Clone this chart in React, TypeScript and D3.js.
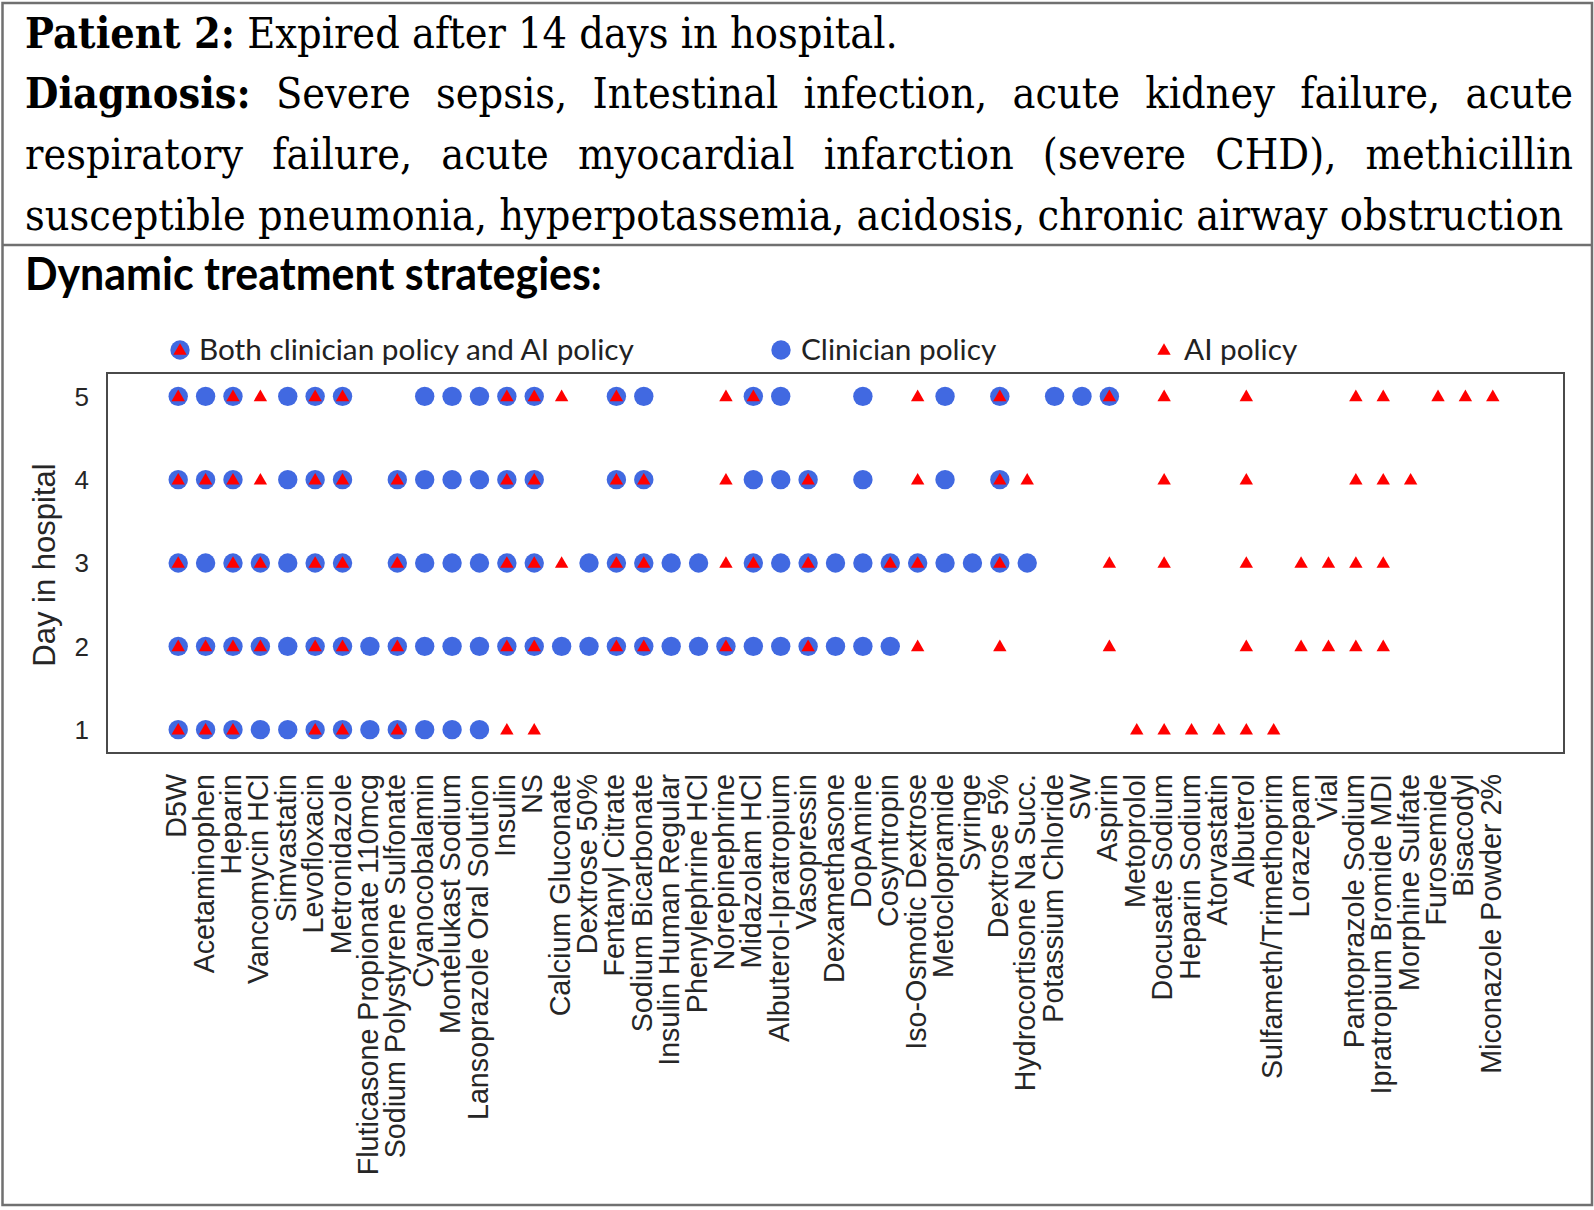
import React, { useLayoutEffect, useRef } from 'react';
import * as d3 from 'd3';

// ---------- data ----------
const drugs = [
  'D5W', 'Acetaminophen', 'Heparin', 'Vancomycin HCl', 'Simvastatin', 'Levofloxacin',
  'Metronidazole', 'Fluticasone Propionate 110mcg', 'Sodium Polystyrene Sulfonate',
  'Cyanocobalamin', 'Montelukast Sodium', 'Lansoprazole Oral Solution', 'Insulin', 'NS',
  'Calcium Gluconate', 'Dextrose 50%', 'Fentanyl Citrate', 'Sodium Bicarbonate',
  'Insulin Human Regular', 'Phenylephrine HCl', 'Norepinephrine', 'Midazolam HCl',
  'Albuterol-Ipratropium', 'Vasopressin', 'Dexamethasone', 'DopAmine', 'Cosyntropin',
  'Iso-Osmotic Dextrose', 'Metoclopramide', 'Syringe', 'Dextrose 5%',
  'Hydrocortisone Na Succ.', 'Potassium Chloride', 'SW', 'Aspirin', 'Metoprolol',
  'Docusate Sodium', 'Heparin Sodium', 'Atorvastatin', 'Albuterol',
  'Sulfameth/Trimethoprim', 'Lorazepam', 'Vial', 'Pantoprazole Sodium',
  'Ipratropium Bromide MDI', 'Morphine Sulfate', 'Furosemide', 'Bisacodyl',
  'Miconazole Powder 2%',
];

const days = [1, 2, 3, 4, 5];
const dayTicks = ['1', '2', '3', '4', '5'];

// One code per drug (same order as `drugs`):
// B = both clinician and AI policy, C = clinician only, A = AI only, . = none
const day1Codes = 'BBBCCBBCBC' + 'CCAA......' + '..........' + '.....AAAAA' + 'A........';
const day2Codes = 'BBBBCBBCBC' + 'CCBBCCBBCC' + 'BCCBCCCA..' + 'A...A....A' + '.AAAA....';
const day3Codes = 'BCBBCBB.BC' + 'CCBBACBBCC' + 'ABCBCCBBCC' + 'BC..A.A..A' + '.AAAA....';
const day4Codes = 'BBBACBB.BC' + 'CCBB..BB..' + 'ACCB.C.AC.' + 'BA....A..A' + '...AAA...';
const day5Codes = 'BCBACBB..C' + 'CCBBA.BC..' + 'ABC..C.AC.' + 'B.CCB.A..A' + '...AA.AAA';

const codesByDay = [day1Codes, day2Codes, day3Codes, day4Codes, day5Codes];

const legendLabels = ['Both clinician policy and AI policy', 'Clinician policy', 'AI policy'];

const headerLine1Bold = 'Patient 2:';
const headerLine1Rest = ' Expired after 14 days in hospital.';
const headerLine2Bold = 'Diagnosis:';
const headerLine2Rest = ' Severe sepsis, Intestinal infection, acute kidney failure, acute';
const headerLine3 = 'respiratory failure, acute myocardial infarction (severe CHD), methicillin';
const headerLine4 = 'susceptible pneumonia, hyperpotassemia, acidosis, chronic airway obstruction';
const sectionTitle = 'Dynamic treatment strategies:';
const yTitle = 'Day in hospital';

// ---------- styles ----------
const BLUE = '#4169E1';
const RED = '#FF0000';
const AXIS_TEXT = '#262626';
const SERIF = "'DejaVu Serif', 'Liberation Serif', serif";
const SANS = "Lato, 'Open Sans', sans-serif";
const ARIAL = "'Liberation Sans', Arial, sans-serif";

export default function App() {
  const W = 1594;
  const H = 1210;
  const frame = { left: 107, right: 1564, top: 373, bottom: 753 };

  const x = d3.scalePoint<string>().domain(drugs).range([frame.left, frame.right]).padding(2.6);
  const y = d3.scaleLinear().domain([0.72, 5.28]).range([frame.bottom, frame.top]);

  const triPath = d3.symbol().type(d3.symbolTriangle).size(78)() as string;
  const R = 9.7;

  const points: { drug: string; day: number; code: string }[] = [];
  days.forEach((day, di) => {
    const codes = codesByDay[di];
    drugs.forEach((drug, i) => {
      const c = codes[i];
      if (c && c !== '.') points.push({ drug, day, code: c });
    });
  });
  const clinicianPts = points.filter((p) => p.code === 'B' || p.code === 'C');
  const aiPts = points.filter((p) => p.code === 'B' || p.code === 'A');

  const ref = useRef<SVGSVGElement>(null);

  useLayoutEffect(() => {
    const svg = d3.select(ref.current);
    const fit = (sel: any, target: number) => {
      const node = sel.node() as SVGTextElement;
      const fs = parseFloat(sel.attr('font-size'));
      const w = node.getComputedTextLength();
      const nfs = (fs * target) / w;
      sel.attr('font-size', nfs);
      return nfs;
    };
    // header: fit font to last (non-justified) line, justify lines 2 and 3
    const fs = fit(svg.select('#hl4'), 1538);
    svg.selectAll('.hl').attr('font-size', fs);
    ['#hl2', '#hl3'].forEach((id) => {
      const s = svg.select(id);
      s.attr('word-spacing', 0);
      const w = (s.node() as SVGTextElement).getComputedTextLength();
      const n = (s.text().match(/ /g) || []).length;
      s.attr('word-spacing', (1548 - w) / n);
    });
    fit(svg.select('#sect'), 577);
    const lfs = fit(svg.select('#leg0'), 435);
    svg.select('#leg1').attr('font-size', lfs);
    svg.select('#leg2').attr('font-size', lfs);
  }, []);

  const headerY = [48, 108, 169, 230];
  const hScale = 1.1;

  return (
    <svg
      ref={ref}
      width={W}
      height={H}
      viewBox={`0 0 ${W} ${H}`}
      style={{ position: 'absolute', left: 0, top: 0, background: '#fff' }}
    >
      <rect x={0} y={0} width={W} height={H} fill="#fff" />
      {/* outer borders */}
      <rect x={2.5} y={3} width={1589.5} height={1202} fill="none" stroke="#707070" strokeWidth={2.5} />
      <line x1={2.5} x2={1592} y1={245} y2={245} stroke="#707070" strokeWidth={2.5} />

      {/* header */}
      <text id="hl1" className="hl" transform={`translate(25,${headerY[0]}) scale(1,${hScale})`} fontFamily={SERIF} fontSize={30} fill="#000">
        <tspan fontWeight="bold">{headerLine1Bold}</tspan>
        <tspan>{headerLine1Rest}</tspan>
      </text>
      <text id="hl2" className="hl" transform={`translate(25,${headerY[1]}) scale(1,${hScale})`} fontFamily={SERIF} fontSize={30} fill="#000">
        <tspan fontWeight="bold">{headerLine2Bold}</tspan>
        <tspan>{headerLine2Rest}</tspan>
      </text>
      <text id="hl3" className="hl" transform={`translate(25,${headerY[2]}) scale(1,${hScale})`} fontFamily={SERIF} fontSize={30} fill="#000">
        {headerLine3}
      </text>
      <text id="hl4" className="hl" transform={`translate(25,${headerY[3]}) scale(1,${hScale})`} fontFamily={SERIF} fontSize={30} fill="#000">
        {headerLine4}
      </text>

      <text id="sect" transform="translate(25,290) scale(1,1.08)" fontFamily={SANS} fontWeight="bold" fontSize={34} fill="#000">
        {sectionTitle}
      </text>

      {/* legend */}
      <g>
        <circle cx={180} cy={350} r={R} fill={BLUE} />
        <path d={triPath} transform="translate(180,351)" fill={RED} />
        <text id="leg0" x={199} y={360} fontFamily={SANS} fontSize={26} fill="#222">
          {legendLabels[0]}
        </text>
        <circle cx={781} cy={350} r={R} fill={BLUE} />
        <text id="leg1" x={801} y={360} fontFamily={SANS} fontSize={26} fill="#222">
          {legendLabels[1]}
        </text>
        <path d={triPath} transform="translate(1164,351)" fill={RED} />
        <text id="leg2" x={1184} y={360} fontFamily={SANS} fontSize={26} fill="#222">
          {legendLabels[2]}
        </text>
      </g>

      {/* plot frame */}
      <rect
        x={frame.left}
        y={frame.top}
        width={frame.right - frame.left}
        height={frame.bottom - frame.top}
        fill="none"
        stroke="#4a4a4a"
        strokeWidth={2}
      />

      {/* markers */}
      <g>
        {clinicianPts.map((p) => (
          <circle key={`c-${p.drug}-${p.day}`} cx={x(p.drug)} cy={y(p.day)} r={R} fill={BLUE} />
        ))}
        {aiPts.map((p) => (
          <path
            key={`a-${p.drug}-${p.day}`}
            d={triPath}
            transform={`translate(${x(p.drug)},${y(p.day) + 1})`}
            fill={RED}
          />
        ))}
      </g>

      {/* y axis */}
      <g fontFamily={ARIAL} fill={AXIS_TEXT}>
        {days.map((d, i) => (
          <text key={d} x={89} y={y(d)} dy="0.36em" textAnchor="end" fontSize={26}>
            {dayTicks[i]}
          </text>
        ))}
        <text transform="translate(55,565) rotate(-90)" textAnchor="middle" fontSize={31}>
          {yTitle}
        </text>
      </g>

      {/* x axis labels */}
      <g fontFamily={ARIAL} fill={AXIS_TEXT}>
        {drugs.map((d) => (
          <text
            key={d}
            transform={`translate(${x(d)},774) rotate(-90)`}
            dy="0.28em"
            textAnchor="end"
            fontSize={28.7}
          >
            {d}
          </text>
        ))}
      </g>
    </svg>
  );
}
